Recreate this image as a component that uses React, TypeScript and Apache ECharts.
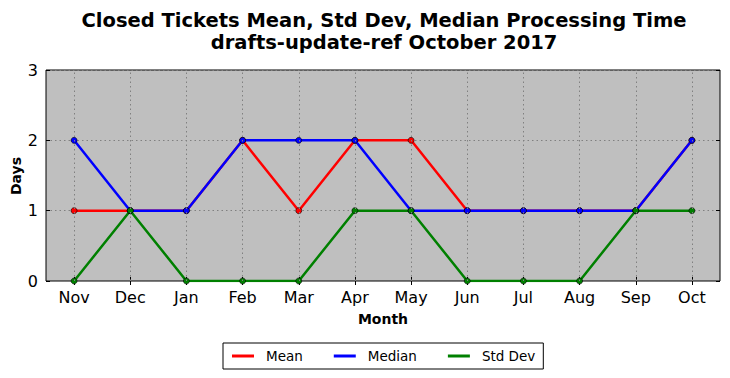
import React, { useEffect, useRef } from "react";
import * as echarts from "echarts";

const months = ["Nov", "Dec", "Jan", "Feb", "Mar", "Apr", "May", "Jun", "Jul", "Aug", "Sep", "Oct"];
const meanValues = [1, 1, 1, 2, 1, 2, 2, 1, 1, 1, 1, 2];
const medianValues = [2, 1, 1, 2, 2, 2, 1, 1, 1, 1, 1, 2];
const stdDevValues = [0, 1, 0, 0, 0, 1, 1, 0, 0, 0, 1, 1];
const yTicks = [0, 1, 2, 3];

const FONT = "DejaVu Sans";

export default function App() {
  const ref = useRef<HTMLDivElement>(null);
  useEffect(() => {
    if (!ref.current) return;
    const chart = echarts.init(ref.current, null, { renderer: "svg" });
    const mkSeries = (name: string, data: number[], color: string) => ({
      name,
      type: "line",
      data,
      xAxisIndex: 0,
      yAxisIndex: 0,
      symbol: "circle",
      symbolSize: 6,
      lineStyle: { color, width: 2.5 },
      itemStyle: { color, borderColor: "#000", borderWidth: 0.6 },
      z: 3,
    });
    chart.setOption({
      animation: false,
      backgroundColor: "#fff",
      textStyle: { fontFamily: FONT },
      title: {
        text: "Closed Tickets Mean, Std Dev, Median Processing Time\ndrafts-update-ref October 2017",
        left: 379,
        top: 4,
        textAlign: "center",
        textStyle: { fontFamily: FONT, fontSize: 19.5, fontWeight: "bold", color: "#000", lineHeight: 22 },
      },
      graphic: [
        {
          type: "text",
          x: 16,
          y: 176,
          rotation: Math.PI / 2,
          style: {
            text: "Days",
            fontFamily: FONT,
            fontSize: 14,
            fontWeight: "bold",
            fill: "#000",
            align: "center",
            verticalAlign: "middle",
          },
        },
      ],
      grid: {
        left: 46,
        top: 70,
        width: 674,
        height: 211,
        show: true,
        backgroundColor: "#bfbfbf",
        borderColor: "#000",
        borderWidth: 1,
        containLabel: false,
        outerBoundsMode: "none",
      },
      legend: {
        left: 223,
        top: 343,
        orient: "horizontal",
        data: ["Mean", "Median", "Std Dev"],
        icon: "rect",
        itemWidth: 22,
        itemHeight: 3,
        itemGap: 31,
        itemStyle: { borderWidth: 0 },
        borderColor: "#000",
        borderWidth: 1,
        borderRadius: 0,
        padding: [6, 8, 6, 9],
        textStyle: { fontFamily: FONT, fontSize: 13.5, color: "#000", padding: [0, 0, 0, 7] },
      },
      xAxis: [
        {
          type: "category",
          data: months,
          boundaryGap: true,
          position: "bottom",
          name: "Month",
          nameLocation: "middle",
          nameGap: 31,
          nameTextStyle: { fontFamily: FONT, fontSize: 14, fontWeight: "bold", color: "#000" },
          axisLine: { show: false },
          axisTick: { show: true, inside: true, alignWithLabel: true, length: 4, lineStyle: { color: "#000" } },
          axisLabel: { fontFamily: FONT, fontSize: 16, color: "#000", margin: 8 },
          splitLine: { show: false },
        },
        {
          type: "category",
          data: months,
          boundaryGap: true,
          position: "top",
          axisLine: { show: false },
          axisTick: { show: true, inside: true, alignWithLabel: true, length: 4, lineStyle: { color: "#000" } },
          axisLabel: { show: false },
          splitLine: { show: false },
        },
      ],
      yAxis: [
        {
          type: "value",
          min: 0,
          max: 3,
          interval: 1,
          position: "left",
          axisLine: { show: false },
          axisTick: { show: true, inside: true, length: 4, lineStyle: { color: "#000" } },
          axisLabel: {
            fontFamily: FONT,
            fontSize: 16,
            color: "#000",
            margin: 8,
            formatter: (v: number) => (yTicks.includes(v) ? String(v) : ""),
          },
          splitLine: { show: true, lineStyle: { color: "#808080", type: [1.5, 3], width: 1 } },
        },
        {
          type: "value",
          min: 0,
          max: 3,
          interval: 1,
          position: "right",
          axisLine: { show: false },
          axisTick: { show: true, inside: true, length: 4, lineStyle: { color: "#000" } },
          axisLabel: { show: false },
          splitLine: { show: false },
        },
      ],
      series: [
        {
          name: "grid",
          type: "line",
          data: [],
          silent: true,
          z: 1,
          markLine: {
            silent: true,
            symbol: "none",
            label: { show: false },
            lineStyle: { color: "#808080", type: [1.5, 3], width: 1 },
            data: months.map((m) => ({ xAxis: m })),
          },
        },
        mkSeries("Mean", meanValues, "#ff0000"),
        mkSeries("Median", medianValues, "#0000ff"),
        mkSeries("Std Dev", stdDevValues, "#008000"),
      ],
    });
    return () => chart.dispose();
  }, []);
  return <div ref={ref} style={{ width: 730, height: 378, margin: -8 }} />;
}
